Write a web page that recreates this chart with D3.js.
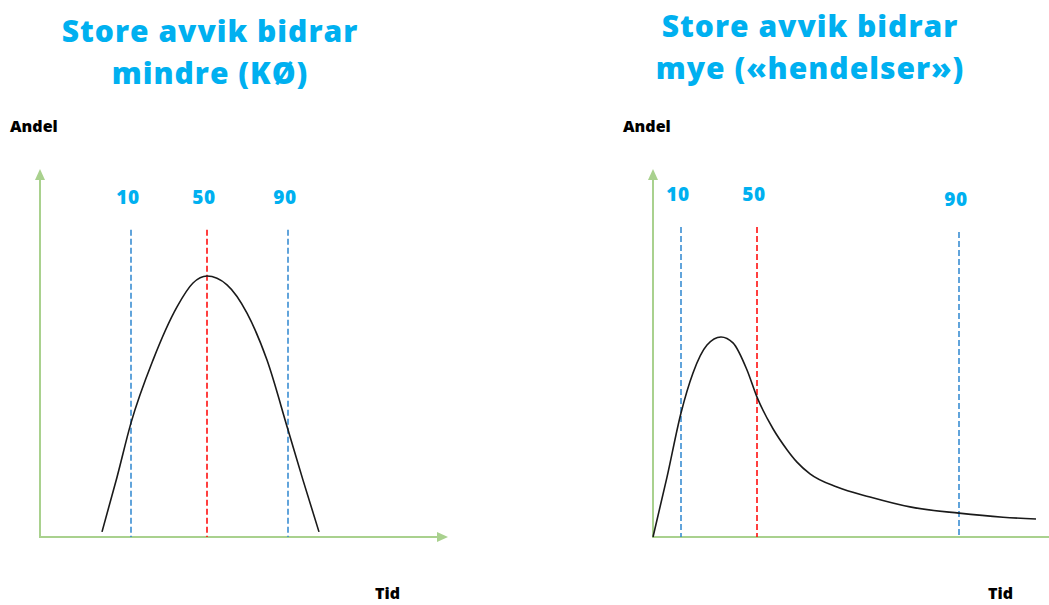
<!DOCTYPE html>
<html>
<head>
<meta charset="utf-8">
<script src="https://cdn.jsdelivr.net/npm/d3@7"></script>
<style>
  body { margin: 0; background: #fff; }
  svg { display: block; }
  .title { font-family: "Open Sans", Lato, sans-serif; font-weight: 800; fill: #00b0f0; }
  .axis-label { font-family: "Open Sans", Lato, sans-serif; font-weight: 800; fill: #000; }
  .pct-label { font-family: "Open Sans", Lato, sans-serif; font-weight: 800; fill: #00b0f0; }
</style>
</head>
<body>
<div id="chart"></div>
<script>
// titles
const leftTitle = ["Store avvik bidrar", "mindre (KØ)"];
const rightTitle = ["Store avvik bidrar", "mye («hendelser»)"];

// percentile markers
const percentileLabels = ["10", "50", "90"];
const percentileColors = ["#2e86d0", "#ff0000", "#2e86d0"];
const leftPercentileX = [22.75, 41.75, 62];
const rightPercentileX = [7, 26, 76.5];
const leftPercentileTop = [83.7, 83.7, 83.7];
const rightPercentileTop = [84.5, 84.5, 83.1];

// curves (Tid, Andel)
const leftCurveX = [15.5, 19.25, 22.75, 28.25, 34.25, 38.25, 41.75, 46.75, 51.75, 56.75, 62, 65.75, 69.75];
const leftCurveY = [1.4, 16.3, 31.1, 48.2, 62.7, 69.2, 71.1, 68.7, 61.0, 48.2, 29.2, 15.5, 1.4];
const rightCurveX = [0, 3.5, 7, 10, 13.5, 17, 20, 23.5, 26, 30, 33.5, 36, 39.25, 46, 54.25, 64.25, 76.5, 87.5, 95.75];
const rightCurveY = [0, 16.3, 33.8, 44.7, 52.3, 54.5, 52.9, 45.5, 38.1, 29.5, 23.8, 20.4, 17.2, 13.6, 10.9, 8.2, 6.5, 5.4, 4.9];

const width = 1049, height = 605;

const svg = d3.select("#chart")
    .append("svg")
    .attr("width", width)
    .attr("height", height);

function drawPanel(opts) {
  const x = d3.scaleLinear().domain([0, 100]).range([opts.originX, opts.originX + 400]);
  const y = d3.scaleLinear().domain([0, 100]).range([537, 170]);
  const g = svg.append("g");
  const green = "#a9d18e";

  // title
  opts.title.forEach((t, i) => {
    g.append("text")
        .attr("class", "title")
        .attr("x", opts.titleX)
        .attr("y", opts.titleY + i * 42)
        .attr("text-anchor", "middle")
        .style("font-size", "30px")
        .style("letter-spacing", "1px")
        .text(t);
  });

  // axes with arrow heads
  const xEnd = x(102), yEnd = y(100);
  g.append("line")
      .attr("x1", x(0)).attr("y1", y(0))
      .attr("x2", x(0)).attr("y2", yEnd + 9)
      .attr("stroke", green).attr("stroke-width", 2);
  g.append("path")
      .attr("d", `M${x(0) - 5},${yEnd + 10}L${x(0)},${yEnd - 1}L${x(0) + 5},${yEnd + 10}Z`)
      .attr("fill", green);
  g.append("line")
      .attr("x1", x(0) - 1).attr("y1", y(0))
      .attr("x2", xEnd - 10).attr("y2", y(0))
      .attr("stroke", green).attr("stroke-width", 2);
  g.append("path")
      .attr("d", `M${xEnd - 11},${y(0) - 5}L${xEnd},${y(0)}L${xEnd - 11},${y(0) + 5}Z`)
      .attr("fill", green);

  // axis labels
  g.append("text")
      .attr("class", "axis-label")
      .attr("x", opts.originX - 30)
      .attr("y", 132)
      .style("font-size", "16px")
      .text("Andel");
  g.append("text")
      .attr("class", "axis-label")
      .attr("x", opts.originX + 335)
      .attr("y", 599)
      .style("font-size", "16px")
      .text("Tid");

  // percentile lines
  opts.pctX.forEach((px, i) => {
    const top = y(opts.pctTop[i]);
    g.append("line")
        .attr("x1", x(px)).attr("x2", x(px))
        .attr("y1", top).attr("y2", y(0))
        .attr("stroke", percentileColors[i])
        .attr("stroke-width", 1.5)
        .attr("stroke-dasharray", "6,3");
    g.append("text")
        .attr("class", "pct-label")
        .attr("x", x(px) - 3)
        .attr("y", top - 26)
        .attr("text-anchor", "middle")
        .style("font-size", "19px")
        .style("letter-spacing", "0.5px")
        .text(percentileLabels[i]);
  });

  // curve
  const pts = opts.curveX.map((d, i) => [d, opts.curveY[i]]);
  g.append("path")
      .datum(pts)
      .attr("fill", "none")
      .attr("stroke", "#1a1a1a")
      .attr("stroke-width", 1.6)
      .attr("d", d3.line()
          .curve(d3.curveMonotoneX)
          .x(d => x(d[0]))
          .y(d => y(d[1]))
      );
}

drawPanel({
  originX: 40, title: leftTitle, titleX: 210, titleY: 42,
  pctX: leftPercentileX, pctTop: leftPercentileTop,
  curveX: leftCurveX, curveY: leftCurveY
});

drawPanel({
  originX: 653, title: rightTitle, titleX: 810, titleY: 37,
  pctX: rightPercentileX, pctTop: rightPercentileTop,
  curveX: rightCurveX, curveY: rightCurveY
});
</script>
</body>
</html>
